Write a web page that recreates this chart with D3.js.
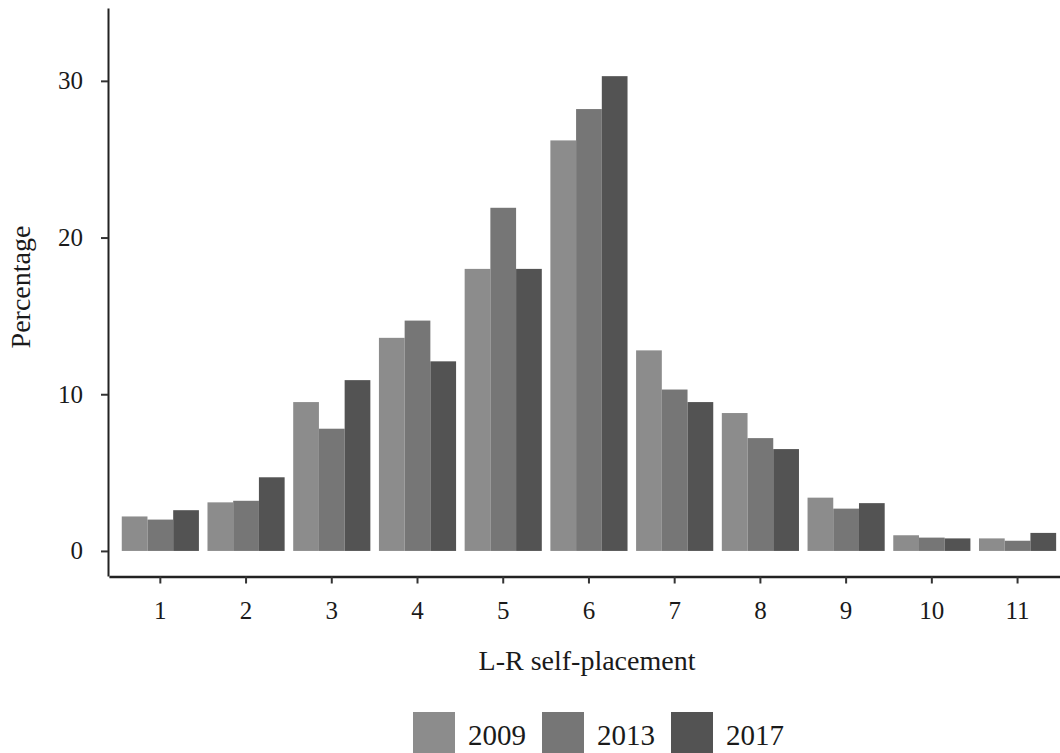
<!DOCTYPE html>
<html>
<head>
<meta charset="utf-8">
<script src="https://cdn.jsdelivr.net/npm/d3@7"></script>
<style>
  html, body { margin: 0; padding: 0; background: #fff; }
  svg { display: block; font-family: "Liberation Serif", "Times New Roman", serif; }
</style>
</head>
<body>
<svg id="chart" width="1060" height="753"></svg>
<script>
const categories = ["1","2","3","4","5","6","7","8","9","10","11"];
const years = ["2009","2013","2017"];
const values2009 = [2.2, 3.1, 9.5, 13.6, 18.0, 26.2, 12.8, 8.8, 3.4, 1.0, 0.8];
const values2013 = [2.0, 3.2, 7.8, 14.7, 21.9, 28.2, 10.3, 7.2, 2.7, 0.85, 0.65];
const values2017 = [2.6, 4.7, 10.9, 12.1, 18.0, 30.3, 9.5, 6.5, 3.05, 0.8, 1.15];
const yTicks = [0, 10, 20, 30];
const xTitle = "L-R self-placement";
const yTitle = "Percentage";
const colors = ["#8c8c8c", "#767676", "#535353"];

const seriesByYear = { "2009": values2009, "2013": values2013, "2017": values2017 };
const rows = categories.map((c, i) => ({ cat: c, vals: years.map(y => ({ year: y, v: seriesByYear[y][i] })) }));

const svg = d3.select("#chart");

const x = d3.scaleBand().domain(categories).range([108.9, 1069]).paddingInner(0.1).paddingOuter(0.15);
const xi = d3.scaleBand().domain(years).range([0, x.bandwidth()]);
const y = d3.scaleLinear().domain([-1.6, 34.65]).range([576, 8]);
const color = d3.scaleOrdinal().domain(years).range(colors);

// bars
const g = svg.append("g");
g.selectAll("g.grp").data(rows).join("g")
  .attr("class", "grp")
  .attr("transform", d => `translate(${x(d.cat)},0)`)
  .selectAll("rect").data(d => d.vals).join("rect")
  .attr("x", d => xi(d.year))
  .attr("width", xi.bandwidth())
  .attr("y", d => y(d.v))
  .attr("height", d => y(0) - y(d.v))
  .attr("fill", d => color(d.year));

// y axis
const yAxis = svg.append("g")
  .attr("transform", "translate(108,0)")
  .call(d3.axisLeft(y).tickValues(yTicks).tickSize(7).tickPadding(18).tickSizeOuter(0));
yAxis.select(".domain").attr("stroke", "#222").attr("stroke-width", 2);
yAxis.selectAll(".tick line").attr("stroke", "#333").attr("stroke-width", 2);
yAxis.selectAll(".tick text").attr("font-size", 25).attr("fill", "#1a1a1a")
  .attr("font-family", "Liberation Serif");

// x axis
const xAxis = svg.append("g")
  .attr("transform", "translate(0,576.5)")
  .call(d3.axisBottom(x).tickSize(7).tickPadding(18).tickSizeOuter(0));
xAxis.select(".domain").attr("stroke", "#222").attr("stroke-width", 2.5);
xAxis.selectAll(".tick line").attr("stroke", "#333").attr("stroke-width", 2);
xAxis.selectAll(".tick text").attr("font-size", 25).attr("fill", "#1a1a1a")
  .attr("font-family", "Liberation Serif");

// axis titles
svg.append("text")
  .attr("x", 587).attr("y", 670)
  .attr("text-anchor", "middle")
  .attr("font-size", 28).attr("fill", "#1a1a1a")
  .text(xTitle);

svg.append("text")
  .attr("transform", "translate(30,287) rotate(-90)")
  .attr("text-anchor", "middle")
  .attr("font-size", 28).attr("fill", "#1a1a1a")
  .text(yTitle);

// legend
const leg = svg.append("g");
const items = leg.selectAll("g").data(years).join("g")
  .attr("transform", (d, i) => `translate(${413 + i * 129},712)`);
items.append("rect").attr("width", 42).attr("height", 42).attr("fill", d => color(d));
items.append("text").attr("x", 55).attr("y", 33)
  .attr("font-size", 29).attr("fill", "#1a1a1a").text(d => d);
</script>
</body>
</html>
